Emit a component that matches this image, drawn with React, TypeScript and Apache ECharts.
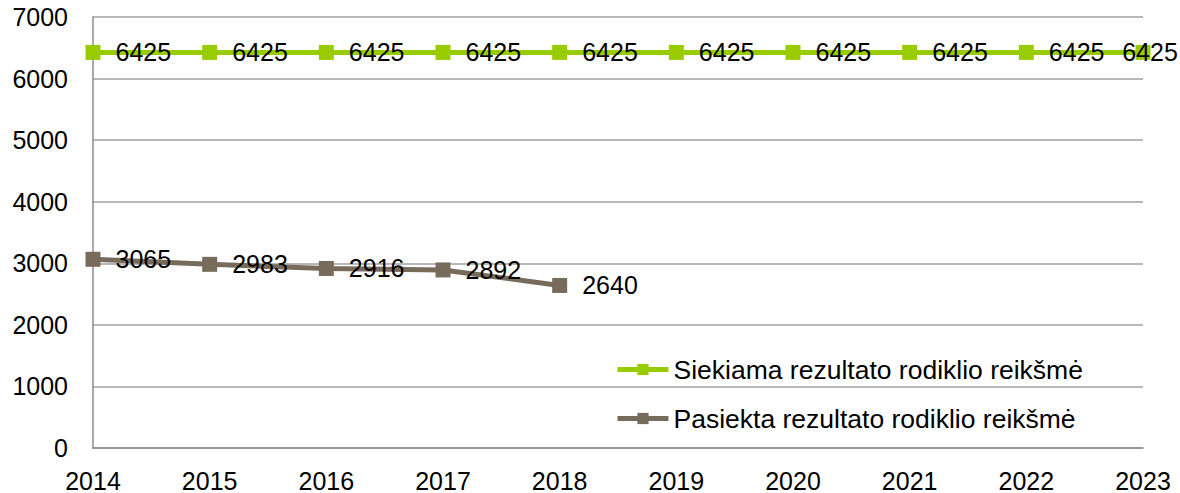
import React, { useEffect, useRef } from "react";
import * as echarts from "echarts";

const years = ["2014", "2015", "2016", "2017", "2018", "2019", "2020", "2021", "2022", "2023"];
const targetValues = [6425, 6425, 6425, 6425, 6425, 6425, 6425, 6425, 6425, 6425];
const achievedValues = [3065, 2983, 2916, 2892, 2640];
const targetName = "Siekiama rezultato rodiklio reikšmė";
const achievedName = "Pasiekta rezultato rodiklio reikšmė";

const FONT = "'Liberation Sans', Arial, sans-serif";

export default function App() {
  const ref = useRef<HTMLDivElement>(null);
  useEffect(() => {
    document.body.style.margin = "0";
    const chart = echarts.init(ref.current!, null, { renderer: "svg" });
    const labelStyle = {
      show: true,
      position: "right" as const,
      distance: 15,
      color: "#000",
      fontSize: 25,
      fontFamily: FONT,
    };
    const lastIdx = targetValues.length - 1;
    chart.setOption({
      animation: false,
      textStyle: { fontFamily: FONT },
      grid: { left: 93, right: 37, top: 17, bottom: 43 },
      legend: {
        orient: "vertical",
        left: 610,
        top: 351,
        itemGap: 22,
        itemWidth: 51,
        itemHeight: 14,
        lineStyle: { width: 5 },
        textStyle: { fontSize: 26.5, color: "#000", fontFamily: FONT },
        data: [targetName, achievedName],
      },
      xAxis: {
        type: "category",
        data: years,
        boundaryGap: false,
        axisLine: { lineStyle: { color: "#8c8c8c", width: 1.5 } },
        axisTick: { show: false },
        axisLabel: { color: "#000", fontSize: 25, fontFamily: FONT, margin: 20 },
        splitLine: { show: false },
      },
      yAxis: {
        type: "value",
        min: 0,
        max: 7000,
        interval: 1000,
        axisLine: { show: true, lineStyle: { color: "#8c8c8c", width: 1.5 } },
        axisTick: { show: false },
        axisLabel: {
          color: "#000",
          fontSize: 25,
          fontFamily: FONT,
          margin: 25,
          formatter: (v: number) => String(v),
        },
        splitLine: { lineStyle: { color: "#a0a0a0", width: 1.5 } },
      },
      series: [
        {
          name: targetName,
          type: "line",
          data: targetValues.map((v, i) =>
            i === lastIdx ? { value: v, label: { position: "inside", offset: [7, 0] } } : v
          ),
          symbol: "rect",
          symbolSize: 15,
          lineStyle: { color: "#99CC00", width: 5 },
          itemStyle: { color: "#99CC00" },
          label: labelStyle,
        },
        {
          name: achievedName,
          type: "line",
          data: achievedValues,
          symbol: "rect",
          symbolSize: 15,
          lineStyle: { color: "#776B5B", width: 5 },
          itemStyle: { color: "#776B5B" },
          label: labelStyle,
        },
      ],
    });
    return () => chart.dispose();
  }, []);
  return <div ref={ref} style={{ width: 1180, height: 493 }} />;
}
